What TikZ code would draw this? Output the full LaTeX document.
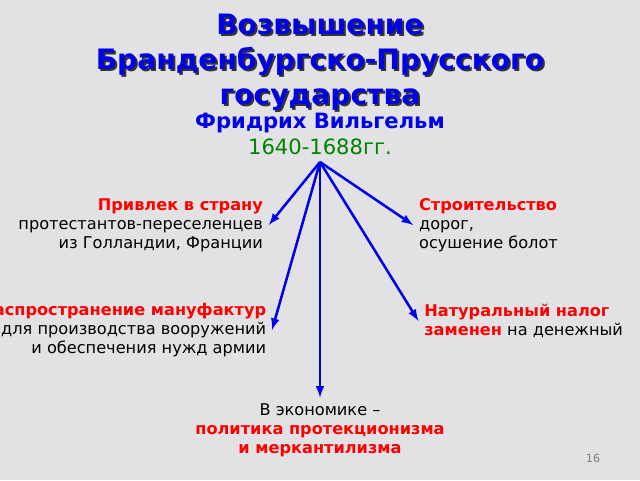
\documentclass[tikz,border=0pt]{standalone}
\usepackage{fontspec}
\setmainfont{DejaVu Sans}
\definecolor{marble}{RGB}{226,226,229}
\definecolor{titleblue}{RGB}{0,0,235}
\definecolor{yeargreen}{RGB}{0,130,0}
\tikzset{
  body/.style={inner sep=4pt,font=\fontsize{11.5}{13.5}\selectfont},
  headline/.style={align=center,font=\fontsize{20}{24.8}\selectfont\bfseries}
}
\begin{document}
\begin{tikzpicture}
    \fill[marble] (0,0) rectangle (16,12);
    \useasboundingbox (0,0) rectangle (16,12);
    \node[headline,black!80] (shadow) at (8.05,10.40) {Возвышение\\Бранденбургско-Прусского\\государства};
    \node[headline,titleblue] (title) at (8,10.45) {Возвышение\\Бранденбургско-Прусского\\государства};
    \node[font=\fontsize{15}{18}\selectfont\bfseries,titleblue] (ruler) at (8,8.93) {Фридрих Вильгельм};
    \node[font=\fontsize{15}{18}\selectfont,yeargreen] (years) at (8,8.33) {1640-1688гг.};
    \coordinate (hub) at (8,7.95);
    \node[body,anchor=east,align=right] (lu) at (6.72,6.375) {\textcolor{red}{\bfseries Привлек в страну}\\протестантов-переселенцев\\из Голландии, Франции};
    \node[body,anchor=west,align=left] (ru) at (10.33,6.375) {\textcolor{red}{\bfseries Строительство}\\дорог,\\осушение болот};
    \node[body,anchor=east,align=right] (ll) at (6.8,3.75) {\textcolor{red}{\bfseries Распространение мануфактур}\\для производства вооружений\\и обеспечения нужд армии};
    \node[body,anchor=west,align=left] (rl) at (10.46,3.975) {\textcolor{red}{\bfseries Натуральный налог}\\\textcolor{red}{\bfseries заменен} на денежный};
    \node[body,align=center] (bot) at (8,1.25) {В экономике –\\\textcolor{red}{\bfseries политика протекционизма}\\\textcolor{red}{\bfseries и меркантилизма}};
    \node[font=\fontsize{8}{10}\selectfont,gray] (page) at (14.825,0.55) {16};
    \foreach \t in {lu.east,ll.east,bot.north,rl.west,ru.west}
        \draw[->,>=latex,line width=1.8pt,titleblue] (hub) -- (\t);
\end{tikzpicture}
\end{document}
